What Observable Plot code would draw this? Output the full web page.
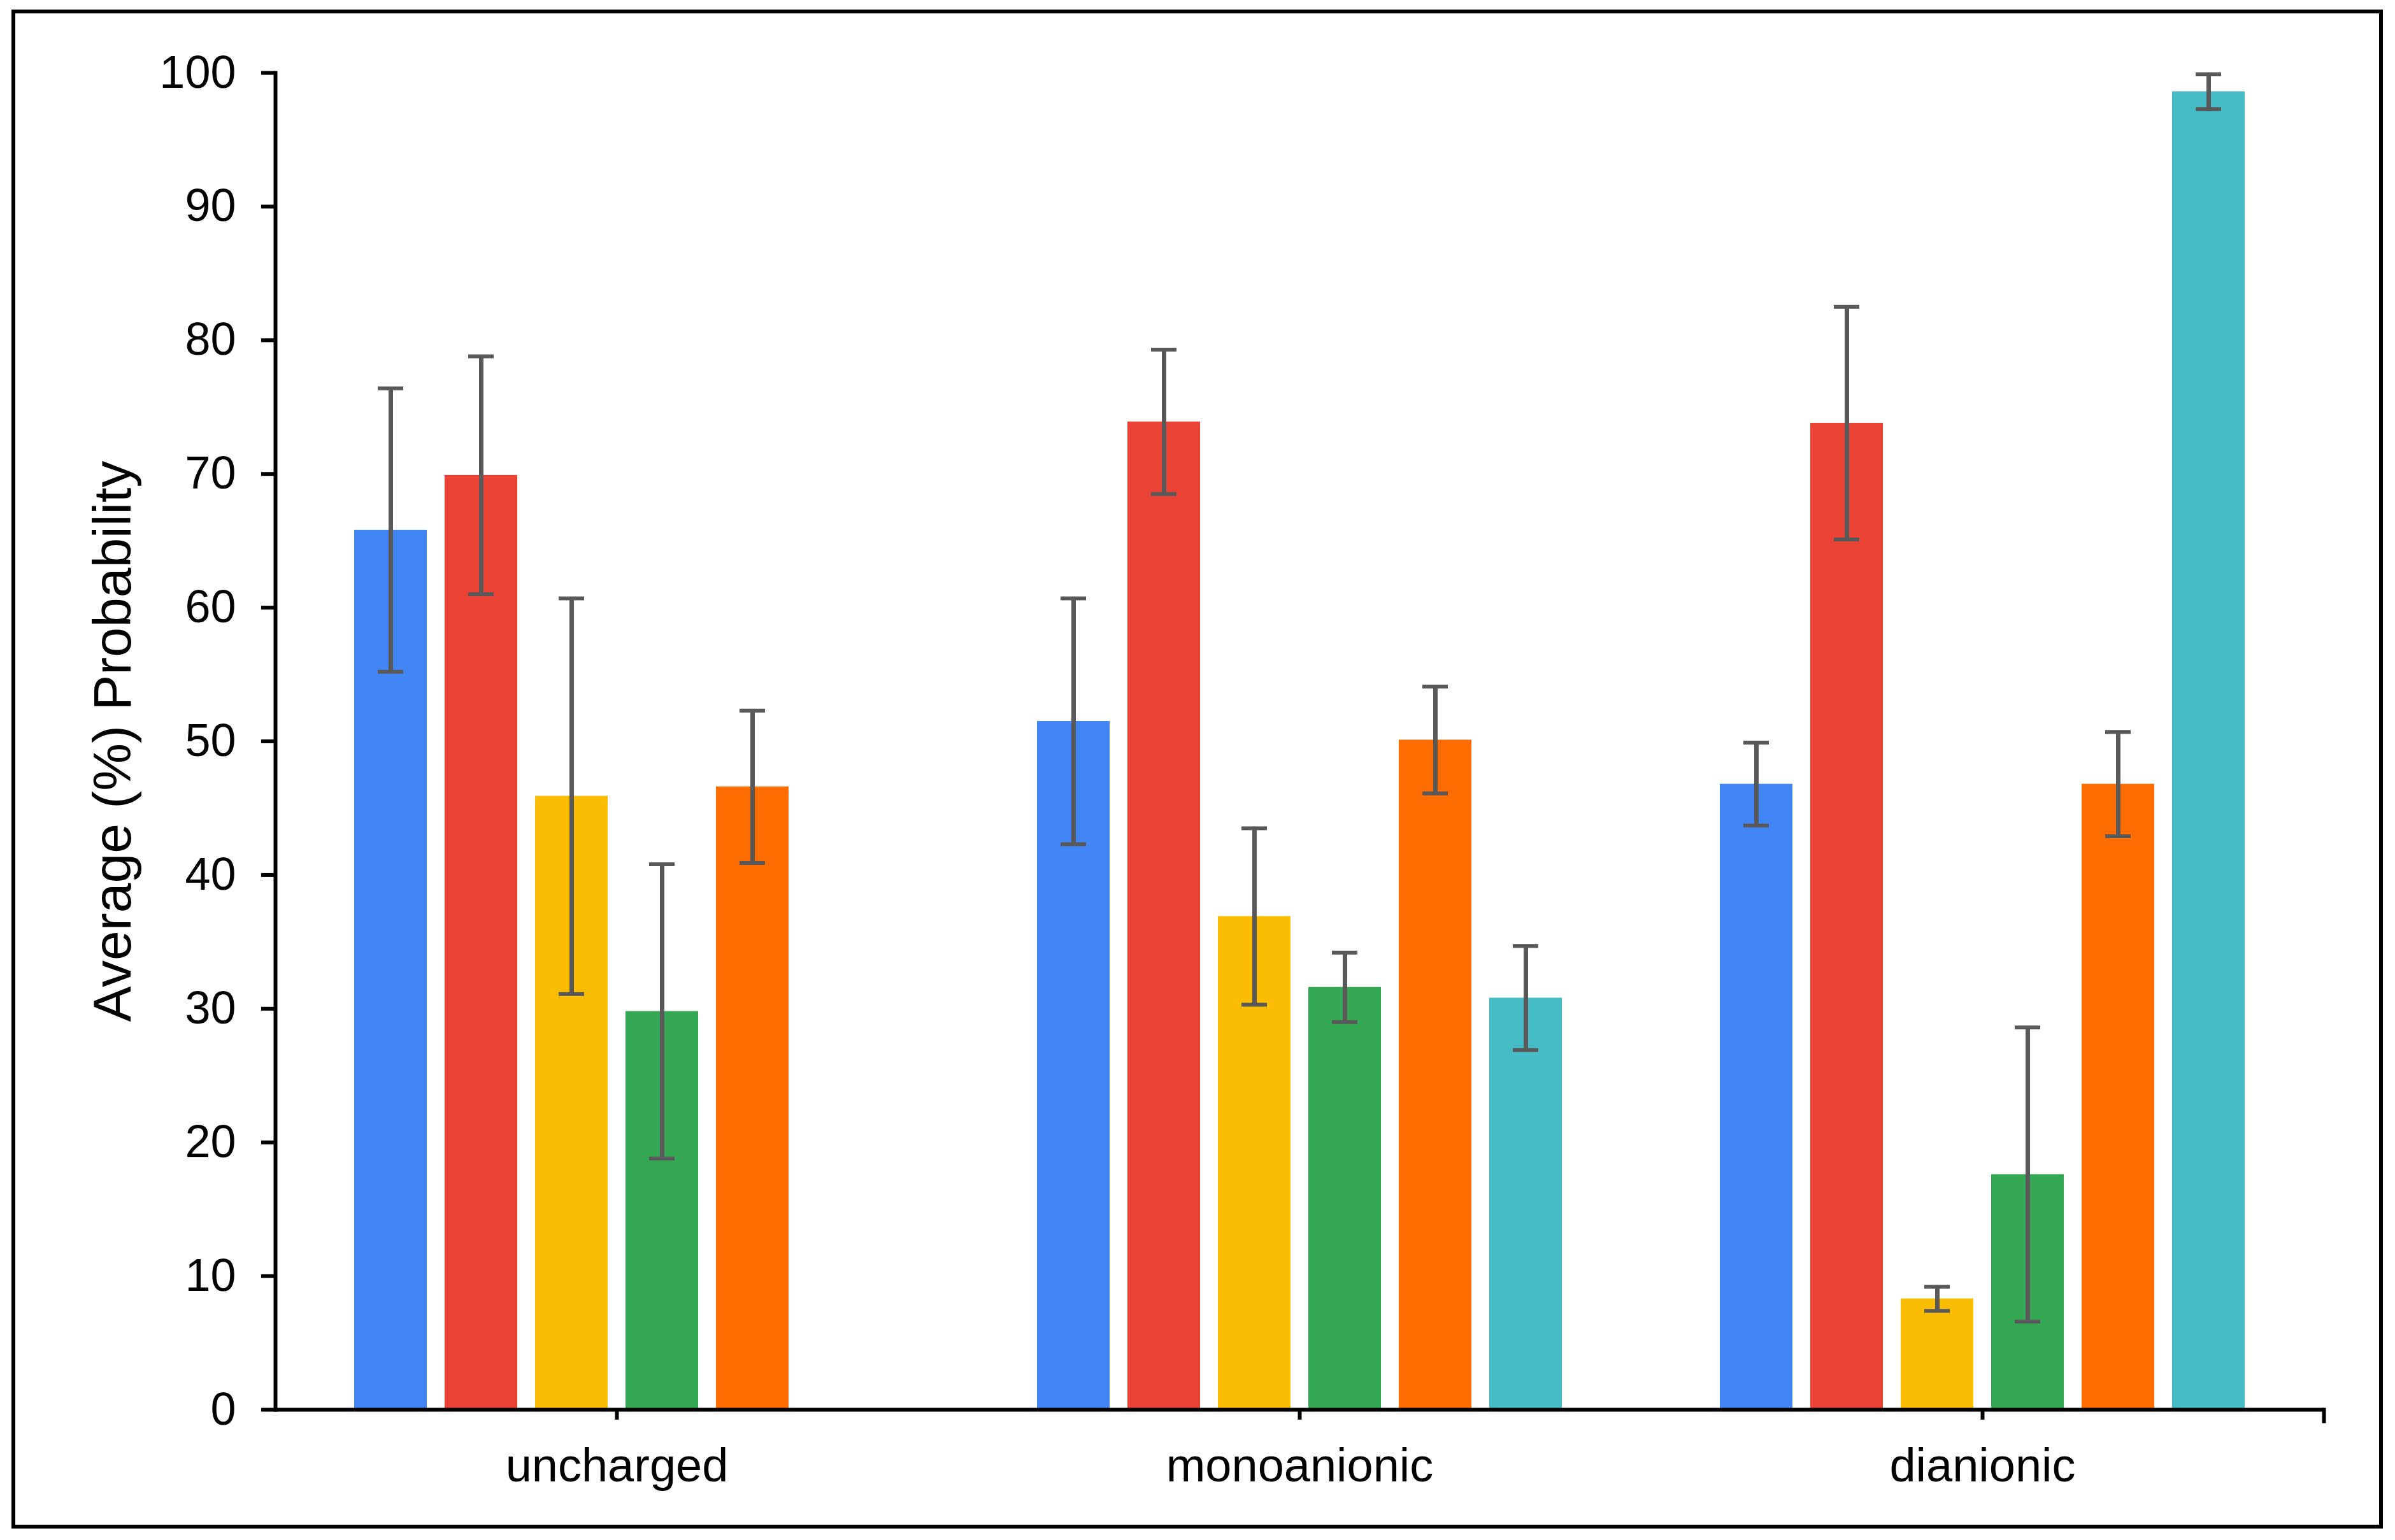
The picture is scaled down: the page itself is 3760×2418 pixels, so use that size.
<!DOCTYPE html>
<html>
<head>
<meta charset="utf-8">
<script src="https://cdn.jsdelivr.net/npm/d3@7"></script>
<script src="https://cdn.jsdelivr.net/npm/@observablehq/plot@0.6"></script>
<style>
  html, body { margin: 0; padding: 0; background: #ffffff; }
  #wrap { position: relative; width: 3760px; height: 2418px; background: #ffffff; overflow: hidden; }
  #border { position: absolute; left: 18px; top: 15px; width: 3723px; height: 2385px; box-sizing: border-box; border: 6px solid #000; pointer-events: none; }
  #chart { position: absolute; left: 0; top: 0; }
</style>
</head>
<body>
<div id="wrap">
  <div id="chart"></div>
  <div id="border"></div>
</div>
<script>
// ---- data ----
const categories = ["uncharged", "monoanionic", "dianionic"];
const seriesNames = ["Series 1", "Series 2", "Series 3", "Series 4", "Series 5", "Series 6"];
const seriesColors = ["#4285F4", "#EA4335", "#FBBC04", "#34A853", "#FF6D01", "#46BDC6"];

const unchargedMean   = [65.8, 69.9, 45.9, 29.8, 46.6, null];
const unchargedErr    = [10.6,  8.9, 14.8, 11.0,  5.7, null];
const monoanionicMean = [51.5, 73.9, 36.9, 31.6, 50.1, 30.8];
const monoanionicErr  = [ 9.2,  5.4,  6.6,  2.6,  4.0,  3.9];
const dianionicMean   = [46.8, 73.8,  8.3, 17.6, 46.8, 98.6];
const dianionicErr    = [ 3.1,  8.7,  0.9, 11.0,  3.9,  1.3];

const yTicks = [0, 10, 20, 30, 40, 50, 60, 70, 80, 90, 100];
const yTitle = "Average (%) Probability";

// ---- table ----
const means = [unchargedMean, monoanionicMean, dianionicMean];
const errs = [unchargedErr, monoanionicErr, dianionicErr];
const rows = [];
categories.forEach((c, i) => {
  seriesNames.forEach((s, j) => {
    const v = means[i][j];
    if (v == null) return;
    rows.push({category: c, series: s, value: v, lo: v - errs[i][j], hi: v + errs[i][j]});
  });
});

const W = 3760, H = 2418;
const mL = 432, mR = 112, mT = 114, mB = 205;
const errColor = "#595959";
const font = "'Liberation Sans', Arial, 'DejaVu Sans', sans-serif";

const chart = Plot.plot({
  width: W,
  height: H,
  marginLeft: mL,
  marginRight: mR,
  marginTop: mT,
  marginBottom: mB,
  style: {fontFamily: font, background: "#ffffff", color: "#000000", overflow: "visible"},
  fx: {domain: categories, padding: 0, label: null, axis: null},
  x: {domain: seriesNames, paddingInner: 0.2, paddingOuter: 0.86, axis: null},
  y: {domain: [0, 100], axis: null},
  color: {domain: seriesNames, range: seriesColors},
  marks: [
    Plot.barY(rows, {fx: "category", x: "series", y: "value", fill: "series"}),
    Plot.ruleX(rows, {fx: "category", x: "series", y1: "lo", y2: "hi", stroke: errColor, strokeWidth: 7}),
    Plot.tickY(rows, {fx: "category", x: "series", y: "hi", stroke: errColor, strokeWidth: 6, insetLeft: 37, insetRight: 37}),
    Plot.tickY(rows, {fx: "category", x: "series", y: "lo", stroke: errColor, strokeWidth: 6, insetLeft: 37, insetRight: 37}),
    Plot.ruleY([0], {stroke: "#000", strokeWidth: 6}),
    Plot.frame({anchor: "left", facetAnchor: "left", stroke: "#000", strokeWidth: 6}),
    Plot.frame({anchor: "right", facetAnchor: "right", stroke: "#000", strokeWidth: 6, insetTop: H - mT - mB, insetBottom: -18}),
    Plot.axisY({ticks: yTicks, tickFormat: d => String(d), tickSize: 22, tickPadding: 40, strokeWidth: 6, fontSize: 72, label: null}),
    Plot.axisFx({anchor: "bottom", tickSize: 16, tickPadding: 44, strokeWidth: 6, fontSize: 74, label: null}),
    Plot.text([yTitle], {frameAnchor: "left", facetAnchor: "left", textAnchor: "middle", lineAnchor: "middle", rotate: -90, dx: -254, fontSize: 84, fill: "#000"})
  ]
});

document.getElementById("chart").appendChild(chart);
</script>
</body>
</html>
